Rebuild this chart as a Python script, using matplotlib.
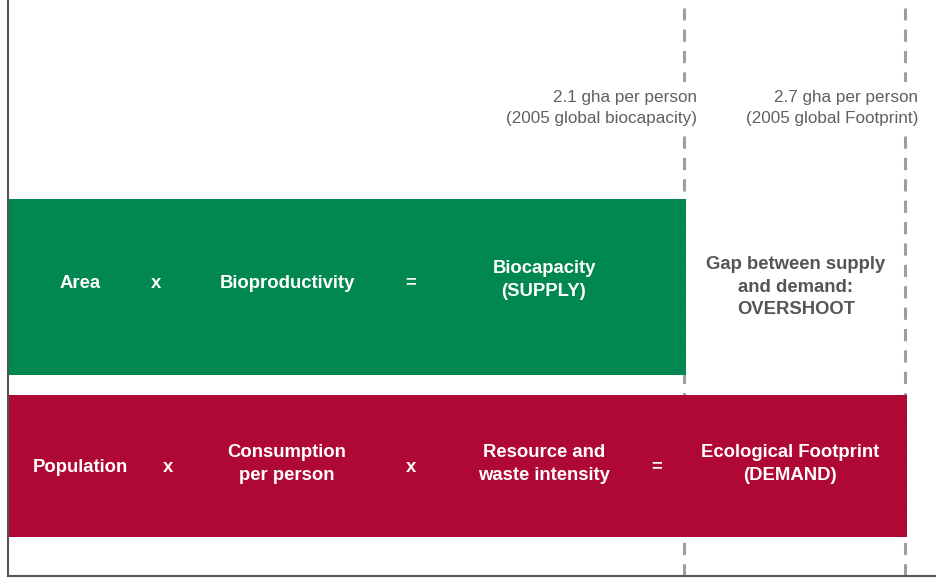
import matplotlib.pyplot as plt
from matplotlib.transforms import blended_transform_factory

plt.rcParams['font.family'] = ['Liberation Sans', 'DejaVu Sans']

# 데이터 (gha per person)
bars = ['Footprint', 'Biocapacity']
values = [2.7, 2.1]
bar_colors = ['#b00835', '#008850']

marker_values = [2.1, 2.7]
marker_labels = ['2.1 gha per person\n(2005 global biocapacity)',
                 '2.7 gha per person\n(2005 global Footprint)']

supply_terms = ['Area', 'x', 'Bioproductivity', '=', 'Biocapacity\n(SUPPLY)']
demand_terms = ['Population', 'x', 'Consumption\nper person', 'x',
                'Resource and\nwaste intensity', '=', 'Ecological Footprint\n(DEMAND)']
gap_label = 'Gap between supply\nand demand:\nOVERSHOOT'

W, H = 936, 578
fig = plt.figure(figsize=(W / 100, H / 100), dpi=100)
ax = fig.add_axes([8 / W, 2 / H, 928 / W, 576 / H])

# 세로는 픽셀 기준 좌표
ax.set_ylim(0, 576)
ax.set_xlim(0.259, 2.779)

# 막대 (y 중심, 높이)
ax.barh([110, 289], values, height=[142, 176], color=bar_colors, zorder=2)

# 점선
for v in marker_values:
    ax.axvline(v - 0.006, ymin=0, ymax=0.986, color='#9e9e9e', lw=2.2,
               dashes=(4, 3), zorder=1)

# 점선 라벨
for v, lab in zip(marker_values, marker_labels):
    ax.text(v + 0.03, 468, lab, ha='right', va='center', fontsize=12.3,
            color='#606060', multialignment='right', linespacing=1.5, zorder=3,
            bbox=dict(facecolor='white', edgecolor='none', pad=6))

# x: 축 비율, y: 픽셀
tr = blended_transform_factory(ax.transAxes, ax.transData)

def px(x):
    return (x - 8) / 928

txt = dict(transform=tr, ha='center', va='center', fontsize=13.3,
           fontweight='bold', linespacing=1.4, zorder=3)

# 한 줄짜리는 조금 아래로
def dy(t):
    return 0 if '\n' in t else 3

supply_x = [80, 156, 287, 411, 544]
for x, t in zip(supply_x, supply_terms):
    ax.text(px(x), 576 - 280 - dy(t), t, color='white', **txt)

demand_x = [80, 168, 287, 411, 544, 657, 790]
for x, t in zip(demand_x, demand_terms):
    ax.text(px(x), 576 - 464 - dy(t), t, color='white', **txt)

ax.text(px(796), 576 - 287, gap_label, color='#555555', **txt)

ax.set_xticks([])
ax.set_yticks([])
ax.spines['top'].set_visible(False)
ax.spines['right'].set_visible(False)
for s in ['left', 'bottom']:
    ax.spines[s].set_color('#555555')
    ax.spines[s].set_linewidth(1.5)

plt.savefig('out.png', dpi=100)
